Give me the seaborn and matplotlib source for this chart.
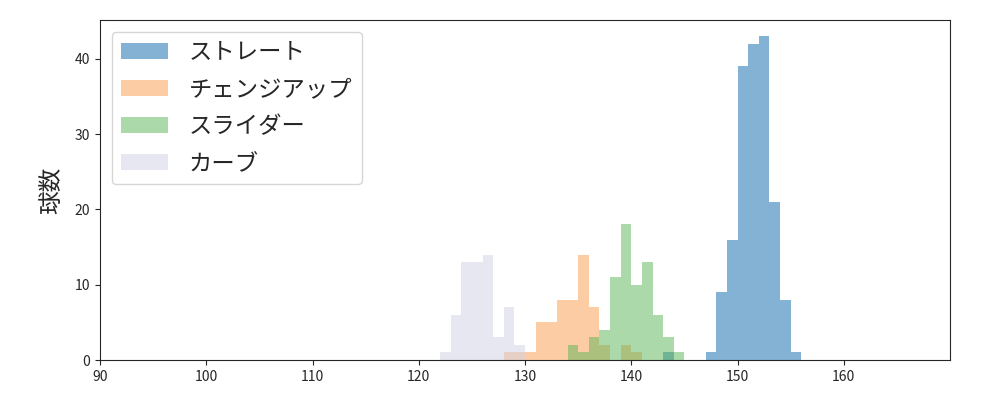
import numpy as np
import pandas as pd
import matplotlib
matplotlib.use('Agg')
import matplotlib.pyplot as plt
import seaborn as sns

# pitch speed (km/h, bin start) and counts
pitch_names = ['ストレート', 'チェンジアップ', 'スライダー', 'カーブ']
pitch_colors = ['#0967ad', '#fb9d4d', '#5bb555', '#d1d1e5']

straight_speed = [143, 147, 148, 149, 150, 151, 152, 153, 154, 155]
straight_count = [1, 1, 9, 16, 39, 42, 43, 21, 8, 1]

change_speed = [128, 129, 130, 131, 132, 133, 134, 135, 136, 137, 139, 140]
change_count = [1, 1, 1, 5, 5, 8, 8, 14, 7, 2, 2, 1]

slider_speed = [134, 135, 136, 137, 138, 139, 140, 141, 142, 143, 144]
slider_count = [2, 1, 3, 4, 11, 18, 10, 13, 6, 3, 1]

curve_speed = [122, 123, 124, 125, 126, 127, 128, 129]
curve_count = [1, 6, 13, 13, 14, 3, 7, 2]

x_ticks = [90, 100, 110, 120, 130, 140, 150, 160]

sns.set_style('ticks')
plt.rcParams['font.family'] = ['Noto Sans CJK JP', 'DejaVu Sans']

fig, ax = plt.subplots(figsize=(10, 4), dpi=100)
fig.subplots_adjust(left=0.1, right=0.95, top=0.95, bottom=0.1)

series = [
    (straight_speed, straight_count),
    (change_speed, change_count),
    (slider_speed, slider_count),
    (curve_speed, curve_count),
]

for name, color, (speed, count) in zip(pitch_names, pitch_colors, series):
    # one row per pitch, placed in the middle of its 1 km/h bin
    values = np.repeat(np.array(speed) + 0.5, count)
    edges = np.arange(min(speed), max(speed) + 2)
    sns.histplot(x=values, bins=edges, color=color, alpha=0.5,
                 linewidth=0, label=name, ax=ax)

ax.set_xlim(90, 170)
ax.set_xticks(x_ticks)
ax.set_ylabel('球数', fontsize=17, labelpad=8)
ax.set_xlabel('')
ax.tick_params(labelsize=10)
for side in ['top', 'right', 'left', 'bottom']:
    ax.spines[side].set_visible(True)

ax.legend(loc='upper left', fontsize=16.8, labelspacing=0.6, handletextpad=0.9)

fig.savefig('out.png')
